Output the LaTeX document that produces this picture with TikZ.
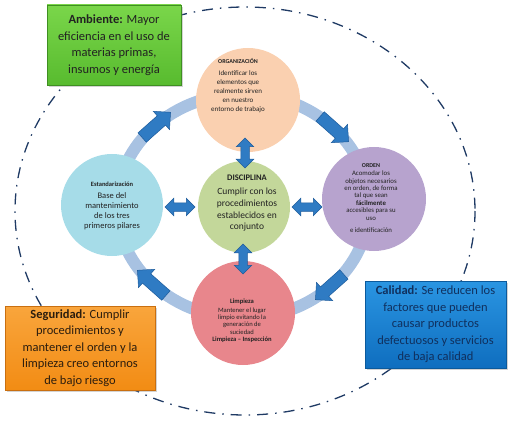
\documentclass[tikz,border=0pt]{standalone}
\usepackage{fontspec}
\setmainfont{Carlito}
\usetikzlibrary{arrows.meta,positioning,shapes.arrows,shadows,backgrounds}
\definecolor{peach}{HTML}{FAD0B0}
\definecolor{lilac}{HTML}{B7A3CE}
\definecolor{rose}{HTML}{E8868C}
\definecolor{aqua}{HTML}{A6DCE8}
\definecolor{sage}{HTML}{C3D79A}
\definecolor{ring}{HTML}{A8C2E2}
\definecolor{flow}{HTML}{2F7BC3}
\definecolor{flowdark}{HTML}{1E5C9C}
\definecolor{navy}{HTML}{1F3A64}
\definecolor{ink}{HTML}{222222}
\definecolor{limetop}{HTML}{7AD64A}
\definecolor{lime}{HTML}{58BB2F}
\definecolor{limedark}{HTML}{3F8F22}
\definecolor{orangetop}{HTML}{F9A53C}
\definecolor{orange}{HTML}{F28C14}
\definecolor{orangedark}{HTML}{C96F10}
\definecolor{bluetop}{HTML}{2A95E2}
\definecolor{blue}{HTML}{0F6EBF}
\definecolor{bluedark}{HTML}{0B5A9C}
\definecolor{segtext}{HTML}{2B1D0E}
\definecolor{caltext}{HTML}{10305E}

\begin{document}
\begin{tikzpicture}[
    x=1pt, y=-1pt, % coordenadas en px, origen arriba
    pilar/.style={circle, inner sep=0pt, minimum size=104pt},
    txt/.style={align=center, text=ink, inner sep=0pt},
    flecha/.style={single arrow, fill=flow, draw=flowdark, line width=0.5pt,
      inner sep=6pt, single arrow head extend=6pt, minimum height=38pt},
    doble/.style={double arrow, fill=flow, draw=flowdark, line width=0.5pt,
      inner sep=4pt, double arrow head extend=4.5pt, minimum height=30pt},
    caja/.style={rectangle, align=center, inner sep=0pt, line width=0.8pt,
      font=\fontsize{12.5}{16.5}\selectfont, drop shadow={opacity=0.35}},
  ]
\useasboundingbox (0,0) rectangle (510,430);

% elipse exterior
\draw[navy, line width=1.3pt, dash pattern=on 11pt off 7pt on 1.5pt off 7pt]
  (245,211) ellipse [x radius=230, y radius=204];
% anillo del ciclo
\draw[ring, line width=12pt] (243,206) ellipse [x radius=126, y radius=112];

% pilares
\node[pilar, fill=peach] (org) at (248,100) {};
\node[pilar, fill=lilac] (orden) at (374,199) {};
\node[pilar, fill=rose] (limp) at (243,313) {};
\node[pilar, fill=aqua, minimum size=102pt] (estand) at (112,205) {};
\node[pilar, fill=sage, minimum size=92pt] (disc) at (244,207) {};

\node[txt, font=\fontsize{7}{9}\selectfont] (orgtxt) at (238,86)
  {{\fontsize{6}{7}\selectfont\textbf{ORGANIZACIÓN}}\\[3pt]Identificar los\\elementos que\\realmente sirven\\en nuestro\\entorno de trabajo};
\node[txt, font=\fontsize{6.8}{7.4}\selectfont] (ordentxt) at (371,198)
  {{\fontsize{6}{7}\selectfont\textbf{ORDEN}}\\[1pt]Acomodar los\\objetos necesarios\\en orden, de forma\\tal que sean\\\textbf{fácilmente}\\accesibles para su\\uso\\[5pt]e identificación};
\node[txt, font=\fontsize{6.6}{7.4}\selectfont] (limptxt) at (242,321)
  {\textbf{Limpieza}\\[1pt]Mantener el lugar\\limpio evitando la\\generación de\\suciedad\\\textbf{Limpieza -- Inspección}};
\node[txt, font=\fontsize{8.5}{10.2}\selectfont] (estandtxt) at (112,206)
  {{\fontsize{6.5}{7}\selectfont\textbf{Estandarización}}\\[2pt]Base del\\mantenimiento\\de los tres\\primeros pilares};
\node[txt, font=\fontsize{9.5}{11.6}\selectfont] (disctxt) at (247,203)
  {{\fontsize{8.5}{9}\selectfont\textbf{DISCIPLINA}}\\[3pt]Cumplir con los\\procedimientos\\establecidos en\\conjunto};

% flechas del ciclo
\node[flecha, rotate=41.6] (f1) at (154,127) {};
\node[flecha, rotate=-41.6] (f2) at (332,127) {};
\node[flecha, rotate=-138.4] (f3) at (332,285) {};
\node[flecha, rotate=138.4] (f4) at (154,285) {};

% flechas dobles hacia disciplina
\node[doble, rotate=90] (d1) at (245,153) {};
\node[doble, rotate=90] (d2) at (243,259) {};
\node[doble] (d3) at (180,207) {};
\node[doble] (d4) at (307,207) {};

% cajas de beneficios
\node[caja, draw=limedark, top color=limetop, bottom color=lime,
  minimum width=134pt, minimum height=80pt, text=ink] (amb) at (114,45)
  {\textbf{Ambiente:} Mayor\\eficiencia en el uso de\\materias primas,\\insumos y energía};
\node[caja, draw=orangedark, top color=orangetop, bottom color=orange,
  minimum width=150pt, minimum height=84pt, text=segtext] (seg) at (80,348)
  {\textbf{Seguridad:} Cumplir\\procedimientos y\\mantener el orden y la\\limpieza creo entornos\\de bajo riesgo};
\node[caja, draw=bluedark, top color=bluetop, bottom color=blue,
  minimum width=141pt, minimum height=87pt, text=caltext] (cal) at (435.5,324.5)
  {\textbf{Calidad:} Se reducen los\\factores que pueden\\causar productos\\defectuosos y servicios\\de baja calidad};
\end{tikzpicture}
\end{document}
